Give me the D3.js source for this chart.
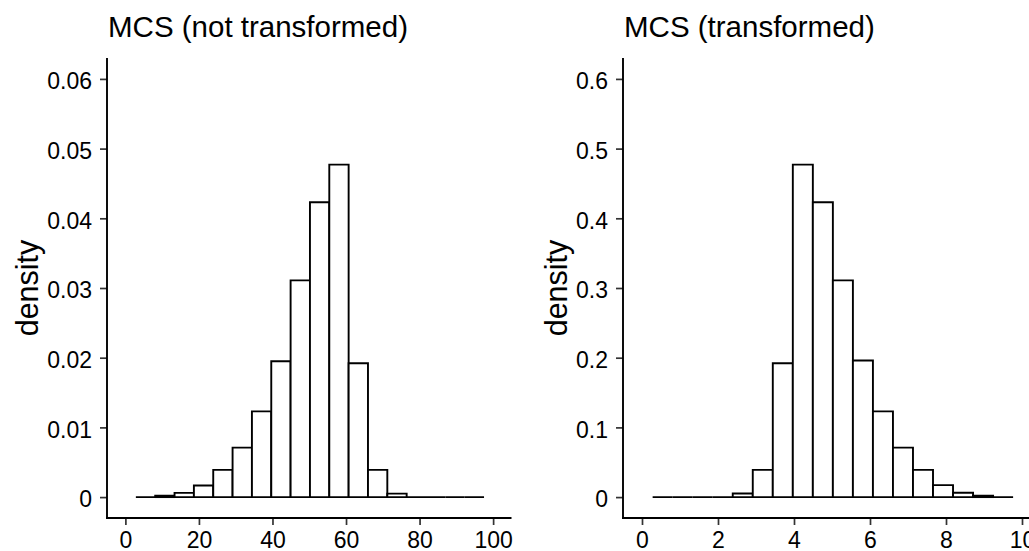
<!DOCTYPE html>
<html>
<head>
<meta charset="utf-8">
<script src="https://cdn.jsdelivr.net/npm/d3@7"></script>
<style>
  html, body { margin: 0; padding: 0; background: #fff; }
  svg { display: block; font-family: "Liberation Sans", Arial, sans-serif; }
</style>
</head>
<body>
<svg id="chart" width="1029" height="551"></svg>
<script>
// ---- data ----
const leftTitle = "MCS (not transformed)";
const rightTitle = "MCS (transformed)";
const yLabel = "density";

// bin edges (start of each bin, plus the final end edge)
const leftBinEdges = [2.85, 8.11, 13.37, 18.63, 23.89, 29.15, 34.41, 39.67, 44.93,
  50.19, 55.45, 60.71, 65.97, 71.23, 76.49, 81.75, 87.01, 92.27, 97.53];
const leftDensity = [0, 0.0002, 0.0006, 0.00166, 0.0039, 0.0071, 0.0123, 0.0195, 0.0311,
  0.0423, 0.0477, 0.0192, 0.0039, 0.0005, 0, 0, 0, 0];

const rightBinEdges = [0.28, 0.807, 1.334, 1.861, 2.388, 2.915, 3.442, 3.969, 4.496,
  5.023, 5.55, 6.077, 6.604, 7.131, 7.658, 8.185, 8.712, 9.239, 9.766];
const rightDensity = [0, 0, 0, 0, 0.0052, 0.039, 0.192, 0.477, 0.423,
  0.311, 0.196, 0.123, 0.071, 0.039, 0.0172, 0.0062, 0.002, 0];

const leftXTicks = [0, 20, 40, 60, 80, 100];
const leftYTicks = [0, 0.01, 0.02, 0.03, 0.04, 0.05, 0.06];
const rightXTicks = [0, 2, 4, 6, 8, 10];
const rightYTicks = [0, 0.1, 0.2, 0.3, 0.4, 0.5, 0.6];

const leftXLimits = [0, 100];
const leftYLimits = [0, 0.06];
const rightXLimits = [0, 10];
const rightYLimits = [0, 0.6];

// ---- drawing ----
const svg = d3.select("#chart");
const panelTop = 58, panelBottom = 518;
const plotWidth = 529;

function expand(lim) {
  const d = (lim[1] - lim[0]) * 0.05;
  return [lim[0] - d, lim[1] + d];
}

function drawPanel(opt) {
  const g = svg.append("g");
  const x = d3.scaleLinear().domain(expand(opt.xLim)).range([opt.left, opt.right]);
  const y = d3.scaleLinear().domain(expand(opt.yLim)).range([panelBottom, panelTop]);

  const bins = opt.density.map((d, i) => ({x0: opt.edges[i], x1: opt.edges[i + 1], d}));

  g.selectAll("path.bar").data(bins).enter().append("path")
    .attr("class", "bar")
    .attr("d", b => {
      const p = d3.path();
      p.moveTo(x(b.x0), y(0));
      p.lineTo(x(b.x0), y(b.d));
      p.lineTo(x(b.x1), y(b.d));
      p.lineTo(x(b.x1), y(0));
      p.closePath();
      return p.toString();
    })
    .attr("fill", "#fff")
    .attr("stroke", "#000")
    .attr("stroke-width", 1.9)
    .attr("stroke-linejoin", "miter");

  // x axis
  const xAxis = d3.axisBottom(x).tickValues(opt.xTicks).tickSize(7).tickPadding(7)
    .tickFormat(d3.format("~g"));
  const gx = g.append("g").attr("transform", `translate(0,${panelBottom})`).call(xAxis);
  gx.select(".domain").remove();
  gx.append("line").attr("x1", opt.left - 1).attr("x2", opt.right)
    .attr("y1", 0).attr("y2", 0).attr("stroke", "#000").attr("stroke-width", 1.9);
  gx.selectAll(".tick line").attr("stroke", "#333").attr("stroke-width", 1.7);
  gx.selectAll(".tick text").attr("font-size", 23).attr("fill", "#000")
    .attr("font-family", "Liberation Sans, Arial, sans-serif");

  // y axis
  const yAxis = d3.axisLeft(y).tickValues(opt.yTicks).tickSize(7).tickPadding(8)
    .tickFormat(d3.format("~g"));
  const gy = g.append("g").attr("transform", `translate(${opt.left},0)`).call(yAxis);
  gy.select(".domain").remove();
  gy.append("line").attr("x1", 0).attr("x2", 0)
    .attr("y1", panelTop).attr("y2", panelBottom + 0.9).attr("stroke", "#000").attr("stroke-width", 1.9);
  gy.selectAll(".tick line").attr("stroke", "#333").attr("stroke-width", 1.7);
  gy.selectAll(".tick text").attr("font-size", 23).attr("fill", "#000")
    .attr("dy", "0.43em")
    .attr("font-family", "Liberation Sans, Arial, sans-serif");

  // title
  g.append("text").attr("x", opt.left + 1).attr("y", 37)
    .attr("font-size", 29.5).attr("fill", "#000").text(opt.title);

  // y label
  g.append("text")
    .attr("transform", `translate(${opt.yLabelX},${(panelTop + panelBottom) / 2}) rotate(-90)`)
    .attr("text-anchor", "middle").attr("font-size", 30.5).attr("fill", "#000")
    .text(yLabel);
}

drawPanel({
  left: 107, right: 511.5, xLim: leftXLimits, yLim: leftYLimits,
  edges: leftBinEdges, density: leftDensity, xTicks: leftXTicks, yTicks: leftYTicks,
  title: leftTitle, yLabelX: 38
});
drawPanel({
  left: 623, right: 1041, xLim: rightXLimits, yLim: rightYLimits,
  edges: rightBinEdges, density: rightDensity, xTicks: rightXTicks, yTicks: rightYTicks,
  title: rightTitle, yLabelX: 38 + plotWidth
});
</script>
</body>
</html>
